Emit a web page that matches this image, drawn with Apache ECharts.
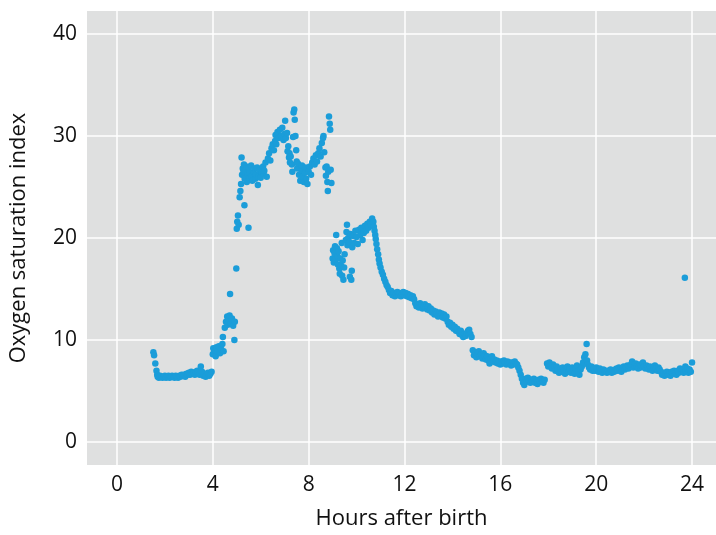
<!DOCTYPE html>
<html>
<head>
<meta charset="utf-8">
<script src="https://cdn.jsdelivr.net/npm/echarts@6/dist/echarts.min.js"></script>
<style>
  html, body { margin: 0; padding: 0; background: #fff; }
  #chart { width: 716px; height: 535px; }
</style>
</head>
<body>
<div id="chart"></div>
<script>
// tick labels
const xTicks = [0, 4, 8, 12, 16, 20, 24];
const yTicks = [0, 10, 20, 30, 40];

// [hours after birth, oxygen saturation index]
const baselinePts = [
  [1.52, 8.8], [1.55, 8.5], [1.6, 7.7], [1.65, 7.0], [1.68, 6.6], [1.7, 6.4], [1.75, 6.3], [1.8, 6.5],
  [1.85, 6.4], [1.9, 6.3], [1.95, 6.4], [2.0, 6.5], [2.05, 6.3], [2.1, 6.4], [2.15, 6.5], [2.2, 6.3],
  [2.25, 6.4], [2.3, 6.5], [2.35, 6.4], [2.4, 6.3], [2.45, 6.5], [2.5, 6.4], [2.55, 6.3], [2.6, 6.5],
  [2.65, 6.4], [2.7, 6.6], [2.75, 6.5], [2.8, 6.6], [2.85, 6.4], [2.9, 6.7], [2.95, 6.6], [3.0, 6.8],
  [3.05, 6.6], [3.1, 6.9], [3.15, 6.7], [3.2, 6.8], [3.25, 6.6], [3.3, 6.9], [3.35, 7.0], [3.4, 6.8],
  [3.45, 6.6], [3.5, 7.4], [3.55, 6.9], [3.6, 6.5], [3.65, 6.7], [3.7, 6.4], [3.75, 6.6], [3.8, 6.8],
  [3.85, 6.5], [3.9, 6.7], [3.95, 6.9]
];
const risePts = [
  [4.0, 8.6], [4.02, 9.2], [4.05, 8.8], [4.1, 9.0], [4.12, 8.4], [4.15, 9.3], [4.2, 8.9], [4.25, 9.4],
  [4.3, 8.7], [4.35, 9.1], [4.4, 9.6], [4.42, 10.3], [4.45, 8.9], [4.5, 11.2], [4.55, 11.8], [4.6, 12.3],
  [4.62, 11.5], [4.65, 12.0], [4.7, 12.4], [4.72, 14.5], [4.75, 11.6], [4.8, 12.1], [4.85, 11.4], [4.9, 10.0],
  [4.92, 11.8], [4.98, 17.0], [5.0, 20.9], [5.02, 21.6], [5.05, 22.2], [5.08, 21.3], [5.12, 24.0], [5.15, 24.6],
  [5.18, 25.3], [5.2, 27.9], [5.22, 26.2], [5.25, 26.8], [5.32, 23.2], [5.49, 21.0]
];
const peakPts = [
  [5.28, 26.5], [5.3, 27.2], [5.33, 25.8], [5.36, 26.6], [5.4, 27.0], [5.42, 25.5], [5.45, 26.3], [5.5, 26.9],
  [5.52, 25.9], [5.55, 26.4], [5.6, 27.1], [5.62, 26.0], [5.65, 25.6], [5.7, 26.5], [5.75, 26.8], [5.78, 25.8],
  [5.8, 26.2], [5.85, 26.9], [5.88, 25.2], [5.9, 26.0], [5.95, 26.6], [6.0, 25.9], [6.05, 26.4], [6.1, 27.0],
  [6.12, 26.3], [6.15, 26.6], [6.2, 27.4], [6.25, 26.0], [6.3, 27.8], [6.35, 28.3], [6.4, 27.6], [6.45, 28.8],
  [6.5, 29.2], [6.55, 28.6], [6.6, 29.5], [6.62, 30.1], [6.65, 29.2], [6.7, 30.4], [6.75, 29.8], [6.8, 30.6],
  [6.85, 30.0], [6.9, 30.8], [6.95, 29.6], [7.0, 30.2], [7.02, 31.5], [7.05, 29.8], [7.1, 30.3], [7.12, 28.5],
  [7.15, 29.0], [7.18, 27.9], [7.2, 28.3], [7.22, 27.4], [7.25, 28.0], [7.3, 27.2], [7.32, 26.5], [7.35, 29.9],
  [7.37, 32.3], [7.4, 32.6], [7.42, 31.6], [7.45, 30.0], [7.48, 28.6], [7.5, 27.5], [7.52, 26.8], [7.55, 27.3],
  [7.6, 26.2], [7.65, 25.6], [7.7, 26.6], [7.72, 27.1], [7.75, 26.0], [7.8, 25.5], [7.85, 26.4], [7.88, 26.9],
  [7.9, 25.8], [7.95, 25.3], [8.0, 26.5], [8.05, 27.0], [8.1, 26.2], [8.15, 27.4], [8.2, 27.8], [8.25, 27.2],
  [8.3, 28.1], [8.35, 27.5], [8.4, 28.3], [8.45, 28.8], [8.5, 28.0], [8.55, 29.3], [8.6, 29.8], [8.62, 30.0],
  [8.65, 28.4], [8.7, 26.9], [8.72, 26.1], [8.75, 27.0], [8.78, 25.5], [8.8, 24.6], [8.82, 26.5], [8.85, 31.9],
  [8.88, 31.2], [8.9, 30.6], [8.92, 26.7], [8.95, 25.4]
];
const humpPts = [
  [9.0, 18.0], [9.02, 18.8], [9.05, 17.6], [9.08, 18.5], [9.1, 19.2], [9.12, 17.9], [9.15, 20.3], [9.18, 19.0],
  [9.2, 18.2], [9.22, 17.4], [9.25, 18.7], [9.28, 17.0], [9.3, 16.5], [9.32, 18.0], [9.35, 17.3], [9.38, 19.5],
  [9.4, 16.3], [9.42, 17.8], [9.45, 15.9], [9.48, 17.1], [9.5, 18.4], [9.55, 19.8], [9.58, 20.6], [9.6, 21.3],
  [9.62, 19.3], [9.65, 20.0], [9.7, 19.6], [9.72, 16.2], [9.75, 20.4], [9.78, 15.9], [9.8, 16.8], [9.82, 19.1],
  [9.85, 20.2], [9.9, 19.5], [9.95, 20.7], [10.0, 20.1], [10.05, 19.4], [10.1, 20.8], [10.15, 20.3], [10.2, 21.0],
  [10.25, 19.8], [10.3, 20.5], [10.35, 21.2], [10.4, 20.7], [10.45, 21.4], [10.5, 21.0], [10.55, 21.6], [10.6, 21.3],
  [10.65, 21.9], [10.7, 21.6], [10.72, 21.1], [10.75, 20.7]
];
const declinePts = [
  [10.78, 20.3], [10.8, 19.9], [10.83, 19.4], [10.86, 18.9], [10.9, 18.4], [10.93, 17.9], [10.96, 17.5], [11.0, 17.1],
  [11.05, 16.7], [11.1, 16.4], [11.15, 16.0], [11.2, 15.7], [11.25, 15.4], [11.3, 15.2], [11.35, 14.9], [11.4, 14.6],
  [11.45, 14.8], [11.5, 14.4], [11.55, 14.6], [11.6, 14.3], [11.65, 14.5], [11.7, 14.7], [11.75, 14.4], [11.8, 14.6],
  [11.85, 14.3], [11.9, 14.5], [11.95, 14.7], [12.0, 14.4], [12.05, 14.6], [12.1, 14.3], [12.15, 14.5], [12.2, 14.2],
  [12.25, 14.4], [12.3, 14.1], [12.35, 14.3], [12.4, 14.0], [12.45, 13.6], [12.5, 13.3], [12.55, 13.5], [12.6, 13.2],
  [12.65, 13.6], [12.7, 13.4], [12.75, 13.1], [12.8, 13.3], [12.85, 13.5], [12.9, 13.2], [12.95, 13.0], [13.0, 13.3],
  [13.05, 12.9], [13.1, 13.1], [13.15, 12.7], [13.2, 12.9], [13.25, 12.5], [13.3, 12.8], [13.35, 12.6], [13.4, 12.3],
  [13.45, 12.7], [13.5, 12.4], [13.55, 12.6], [13.6, 12.2], [13.65, 12.5], [13.7, 12.1], [13.75, 12.3], [13.8, 11.8],
  [13.85, 11.5], [13.9, 11.7], [13.95, 11.3], [14.0, 11.5], [14.05, 11.1], [14.1, 11.3], [14.15, 10.9], [14.2, 11.1],
  [14.25, 10.8], [14.3, 10.6], [14.35, 10.9], [14.4, 10.5], [14.45, 10.3], [14.5, 10.6], [14.55, 10.4], [14.6, 10.7],
  [14.65, 10.9], [14.7, 11.0], [14.75, 10.6], [14.8, 10.3]
];
const plateauPts = [
  [14.85, 9.0], [14.9, 8.5], [14.95, 8.8], [15.0, 8.3], [15.05, 8.7], [15.1, 8.9], [15.15, 8.4], [15.2, 8.6],
  [15.25, 8.2], [15.3, 8.7], [15.35, 8.5], [15.4, 8.1], [15.45, 8.4], [15.5, 8.0], [15.55, 7.7], [15.6, 8.2],
  [15.65, 8.4], [15.7, 7.9], [15.75, 8.1], [15.8, 7.8], [15.85, 8.0], [15.9, 7.7], [15.95, 7.9], [16.0, 7.6],
  [16.05, 7.9], [16.1, 7.7], [16.15, 8.0], [16.2, 7.8], [16.25, 7.6], [16.3, 7.9], [16.35, 7.7], [16.4, 7.8],
  [16.45, 7.5], [16.5, 7.8], [16.55, 7.6], [16.6, 7.9], [16.65, 7.7], [16.7, 7.6], [16.75, 7.3], [16.8, 7.0],
  [16.85, 6.6], [16.9, 6.2], [16.95, 5.8], [17.0, 5.6], [17.05, 6.2], [17.1, 5.9], [17.15, 6.3], [17.2, 6.0],
  [17.25, 5.8], [17.3, 6.1], [17.35, 5.9], [17.4, 6.2], [17.45, 5.8], [17.5, 6.0], [17.55, 5.7], [17.6, 6.1],
  [17.65, 5.9], [17.7, 6.2], [17.75, 6.0], [17.8, 5.8], [17.85, 6.1]
];
const latePts = [
  [17.95, 7.7], [18.0, 7.4], [18.05, 7.8], [18.1, 7.5], [18.15, 7.2], [18.2, 7.6], [18.25, 7.3], [18.3, 7.0],
  [18.35, 7.4], [18.4, 7.1], [18.45, 6.8], [18.5, 7.2], [18.55, 6.9], [18.6, 7.3], [18.65, 7.0], [18.7, 6.7],
  [18.75, 7.1], [18.8, 7.4], [18.85, 6.9], [18.9, 7.2], [18.95, 6.8], [19.0, 7.3], [19.05, 7.0], [19.1, 6.7],
  [19.15, 7.2], [19.2, 7.5], [19.25, 7.0], [19.3, 6.6], [19.35, 7.1], [19.4, 7.4], [19.45, 7.8], [19.5, 8.3],
  [19.55, 8.6], [19.6, 9.6], [19.62, 8.0], [19.65, 7.6], [19.7, 7.3], [19.75, 7.1], [19.8, 7.4], [19.85, 7.0],
  [19.9, 7.2], [19.95, 7.0], [20.0, 7.3], [20.05, 7.1], [20.1, 6.9], [20.15, 7.2], [20.2, 7.0], [20.25, 6.8],
  [20.3, 7.1], [20.35, 6.9], [20.4, 7.0], [20.45, 6.8], [20.5, 7.0], [20.55, 6.9], [20.6, 7.1], [20.65, 6.8],
  [20.7, 7.0], [20.75, 6.9], [20.8, 7.1], [20.85, 7.2], [20.9, 7.0], [20.95, 7.3], [21.0, 7.1], [21.05, 6.9],
  [21.1, 7.2], [21.15, 7.4], [21.2, 7.1], [21.25, 7.3], [21.3, 7.5], [21.35, 7.2], [21.4, 7.4], [21.45, 7.6],
  [21.5, 7.9], [21.55, 7.3], [21.6, 7.5], [21.65, 7.7], [21.7, 7.4], [21.75, 7.2], [21.8, 7.6], [21.85, 7.3],
  [21.9, 7.5], [21.95, 7.8], [22.0, 7.4], [22.05, 7.2], [22.1, 7.5], [22.15, 7.3], [22.2, 7.1], [22.25, 7.4],
  [22.3, 7.2], [22.35, 7.0], [22.4, 7.3], [22.45, 7.5], [22.5, 7.2], [22.55, 7.0], [22.6, 7.3], [22.65, 7.1],
  [22.7, 6.9], [22.75, 6.6], [22.8, 6.8], [22.85, 6.5], [22.9, 6.7], [22.95, 6.9], [23.0, 6.6], [23.05, 6.8],
  [23.1, 6.5], [23.15, 6.9], [23.2, 6.7], [23.25, 7.0], [23.3, 6.8], [23.35, 6.6], [23.4, 7.0], [23.45, 6.8],
  [23.5, 7.2], [23.55, 6.9], [23.6, 7.1], [23.65, 6.8], [23.7, 16.1], [23.72, 7.4], [23.75, 7.0], [23.8, 7.2],
  [23.85, 6.8], [23.9, 7.1], [23.95, 6.9], [24.0, 7.8]
];

const allPts = [].concat(baselinePts, risePts, peakPts, humpPts, declinePts, plateauPts, latePts);

const labelFont = '"Open Sans", sans-serif';

const chart = echarts.init(document.getElementById('chart'), null, { renderer: 'canvas' });
chart.setOption({
  animation: false,
  backgroundColor: '#ffffff',
  grid: {
    left: 87,
    top: 11,
    right: 0,
    bottom: 67,
    show: true,
    backgroundColor: '#dfe0e0',
    borderWidth: 0
  },
  xAxis: {
    type: 'value',
    min: -1.25,
    max: 25,
    name: 'Hours after birth',
    nameLocation: 'middle',
    nameGap: 43,
    nameTextStyle: { fontFamily: labelFont, fontSize: 22, color: '#111' },
    axisLine: { show: false },
    axisTick: { show: false, customValues: xTicks },
    axisLabel: {
      customValues: xTicks,
      fontFamily: labelFont,
      fontSize: 21,
      color: '#111',
      margin: 10
    },
    splitLine: { show: true, lineStyle: { color: '#ffffff', width: 1.5 } }
  },
  yAxis: {
    type: 'value',
    min: -2.25,
    max: 42.25,
    name: 'Oxygen saturation index',
    nameLocation: 'middle',
    nameGap: 57,
    nameTextStyle: { fontFamily: labelFont, fontSize: 22, color: '#111' },
    axisLine: { show: false },
    axisTick: { show: false, customValues: yTicks },
    axisLabel: {
      customValues: yTicks,
      fontFamily: labelFont,
      fontSize: 21,
      color: '#111',
      margin: 10
    },
    splitLine: { show: true, lineStyle: { color: '#ffffff', width: 1.5 } }
  },
  series: [
    {
      type: 'scatter',
      data: allPts,
      symbolSize: 6.5,
      itemStyle: { color: '#1b9dd9', opacity: 1 }
    }
  ]
});
</script>
</body>
</html>
